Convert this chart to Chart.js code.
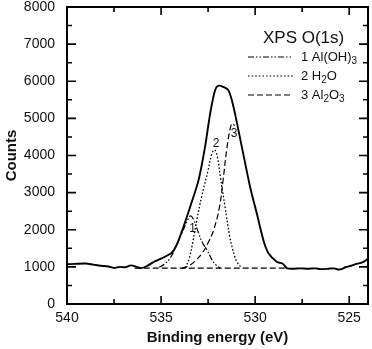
<!DOCTYPE html>
<html>
<head>
<meta charset="utf-8">
<script src="https://cdn.jsdelivr.net/npm/chart.js@4.4.1/dist/chart.umd.min.js"></script>
<style>
  html, body { margin: 0; padding: 0; background: #fff; }
  #wrap { width: 372px; height: 349px; }
</style>
</head>
<body>
<div id="wrap"><canvas id="xps" width="372" height="349"></canvas></div>
<script>
// binding energy (eV) / counts
const envelopeE = [540.0, 539.6, 539.0, 538.6, 538.2, 537.8, 537.5, 537.2, 536.9, 536.6, 536.3, 536.1, 535.8, 535.4, 535.0, 534.7, 534.43, 534.17, 533.8, 533.4, 533.0, 532.66, 532.39, 532.13, 531.95, 531.7, 531.42, 531.15, 530.71, 530.27, 529.91, 529.56, 529.29, 528.85, 528.55, 528.4, 528.3, 528.0, 527.6, 527.2, 526.8, 526.5, 526.1, 525.8, 525.6, 525.4, 525.2, 524.9, 524.6, 524.3, 524.0];
const envelopeCounts = [1070, 1080, 1090, 1060, 1030, 1010, 970, 1000, 990, 1040, 1000, 965, 1010, 1130, 1220, 1300, 1380, 1590, 2090, 2700, 3350, 4240, 5130, 5760, 5880, 5850, 5760, 5310, 4240, 3160, 2440, 1720, 1370, 1140, 1090, 1010, 960, 950, 960, 950, 960, 940, 950, 960, 930, 940, 990, 1030, 1080, 1120, 1220];

const alohE = [535.1, 534.8, 534.5, 534.2, 533.9, 533.6, 533.45, 533.3, 533.0, 532.8, 532.55, 532.3, 532.1, 531.85];
const alohCounts = [990, 1080, 1250, 1550, 1900, 2250, 2370, 2300, 1900, 1650, 1450, 1200, 1060, 965];

const waterE = [533.7, 533.5, 533.3, 533.1, 532.85, 532.5, 532.3, 532.15, 532.0, 531.85, 531.6, 531.35, 531.1, 530.95, 530.7];
const waterCounts = [975, 1230, 1700, 2260, 2880, 3600, 4050, 4150, 3950, 3430, 2620, 1820, 1300, 1120, 965];

const aloxE = [533.9, 533.6, 533.2, 532.8, 532.5, 532.2, 531.9, 531.7, 531.5, 531.3, 531.2, 531.1];
const aloxCounts = [965, 1010, 1150, 1380, 1650, 2000, 2600, 3350, 4200, 4780, 4870, 4800];

const baselineE = [536.4, 528.3];
const baselineCounts = [965, 965];

const xTicks = [540, 535, 530, 525];
const xMinorTicks = [537.5, 532.5, 527.5];
const yTicks = [0, 1000, 2000, 3000, 4000, 5000, 6000, 7000, 8000];
const yMinorTicks = [500, 1500, 2500, 3500, 4500, 5500, 6500, 7500];

const peakNames = ['1', '2', '3'];
const peakLabelE = [533.32, 532.07, 531.12];
const peakLabelCounts = [2040, 4330, 4600];

const FONT = "'Liberation Sans', Arial, sans-serif";

function pts(xs, ys) {
    return xs.map((x, i) => ({ x: x, y: ys[i] }));
}

const dashDot = [6, 2, 1.5, 2, 1.5, 2];
const dotted = [1.6, 2];
const dashed = [6, 3];

// frame, inward ticks, legend and peak numbers
const decor = {
    id: 'decor',
    afterDatasetsDraw(chart) {
        const ctx = chart.ctx;
        const a = chart.chartArea;
        const xs = chart.scales.x, ys = chart.scales.y;
        ctx.save();
        ctx.strokeStyle = '#000';
        ctx.setLineDash([]);
        ctx.lineWidth = 1.6;
        ctx.beginPath();
        xTicks.forEach(v => {
            const px = xs.getPixelForValue(v);
            ctx.moveTo(px, a.bottom); ctx.lineTo(px, a.bottom - 8);
            ctx.moveTo(px, a.top); ctx.lineTo(px, a.top + 8);
        });
        xMinorTicks.forEach(v => {
            const px = xs.getPixelForValue(v);
            ctx.moveTo(px, a.bottom); ctx.lineTo(px, a.bottom - 5);
            ctx.moveTo(px, a.top); ctx.lineTo(px, a.top + 5);
        });
        yTicks.forEach(v => {
            const py = ys.getPixelForValue(v);
            ctx.moveTo(a.left, py); ctx.lineTo(a.left + 9, py);
            ctx.moveTo(a.right, py); ctx.lineTo(a.right - 9, py);
        });
        yMinorTicks.forEach(v => {
            const py = ys.getPixelForValue(v);
            ctx.moveTo(a.left, py); ctx.lineTo(a.left + 5, py);
            ctx.moveTo(a.right, py); ctx.lineTo(a.right - 5, py);
        });
        ctx.stroke();
        ctx.lineWidth = 2;
        ctx.strokeRect(a.left, a.top, a.right - a.left, a.bottom - a.top);

        // peak numbers
        ctx.fillStyle = '#111';
        ctx.font = '12px ' + FONT;
        ctx.textAlign = 'center';
        ctx.textBaseline = 'middle';
        peakNames.forEach((n, i) => {
            ctx.fillText(n, xs.getPixelForValue(peakLabelE[i]), ys.getPixelForValue(peakLabelCounts[i]));
        });

        // legend
        ctx.textAlign = 'left';
        ctx.font = '17px ' + FONT;
        ctx.fillText('XPS O(1s)', 263, 38);
        const rows = [
            { y: 57, dash: dashDot, parts: [['1 Al(OH)', 0], ['3', 1]] },
            { y: 76, dash: dotted, parts: [['2 H', 0], ['2', 1], ['O', 0]] },
            { y: 95, dash: dashed, parts: [['3 Al', 0], ['2', 1], ['O', 0], ['3', 1]] }
        ];
        rows.forEach(r => {
            ctx.lineWidth = 1.2;
            ctx.setLineDash(r.dash);
            ctx.beginPath();
            ctx.moveTo(248, r.y); ctx.lineTo(293, r.y);
            ctx.stroke();
            let tx = 301;
            r.parts.forEach(([t, sub]) => {
                ctx.font = (sub ? '10px ' : '13px ') + FONT;
                ctx.fillText(t, tx, r.y + (sub ? 4 : 0));
                tx += ctx.measureText(t).width;
            });
        });
        ctx.restore();
    }
};

function lineSet(xs, ys, dash, width, tension) {
    return {
        data: pts(xs, ys),
        borderColor: '#000',
        borderWidth: width,
        borderDash: dash,
        pointRadius: 0,
        fill: false,
        tension: tension
    };
}

new Chart(document.getElementById('xps'), {
    type: 'line',
    data: {
        datasets: [
            lineSet(baselineE, baselineCounts, dashed, 1.2, 0),
            lineSet(alohE, alohCounts, dashDot, 1.2, 0.4),
            lineSet(waterE, waterCounts, dotted, 1.3, 0.4),
            lineSet(aloxE, aloxCounts, dashed, 1.2, 0.4),
            lineSet(envelopeE, envelopeCounts, [], 1.9, 0.3)
        ]
    },
    options: {
        responsive: false,
        animation: false,
        layout: { padding: { left: 0, right: 4, top: 0, bottom: 0 } },
        plugins: { legend: { display: false }, tooltip: { enabled: false } },
        scales: {
            x: {
                type: 'linear',
                reverse: true,
                min: 524,
                max: 540,
                border: { display: false },
                grid: { display: false },
                afterBuildTicks: s => { s.ticks = xTicks.map(v => ({ value: v })); },
                afterFit: s => { s.height = 45; s.paddingLeft = 0; s.paddingRight = 0; },
                ticks: { color: '#111', font: { family: FONT, size: 14 }, padding: -2, maxRotation: 0, callback: v => String(v) },
                title: {
                    display: true,
                    text: 'Binding energy (eV)',
                    color: '#111',
                    font: { family: FONT, size: 15, weight: 'bold' },
                    padding: { top: 0, bottom: 2 }
                }
            },
            y: {
                min: 0,
                max: 8000,
                border: { display: false },
                grid: { display: false },
                afterBuildTicks: s => { s.ticks = yTicks.map(v => ({ value: v })); },
                afterFit: s => { s.width = 67; s.paddingTop = 7; s.paddingBottom = 0; },
                ticks: { color: '#111', font: { family: FONT, size: 14 }, padding: 4, callback: v => String(v) },
                title: {
                    display: true,
                    text: 'Counts',
                    color: '#111',
                    font: { family: FONT, size: 15, weight: 'bold' },
                    padding: { top: 3, bottom: 0 }
                }
            }
        }
    },
    plugins: [decor]
});
</script>
</body>
</html>
